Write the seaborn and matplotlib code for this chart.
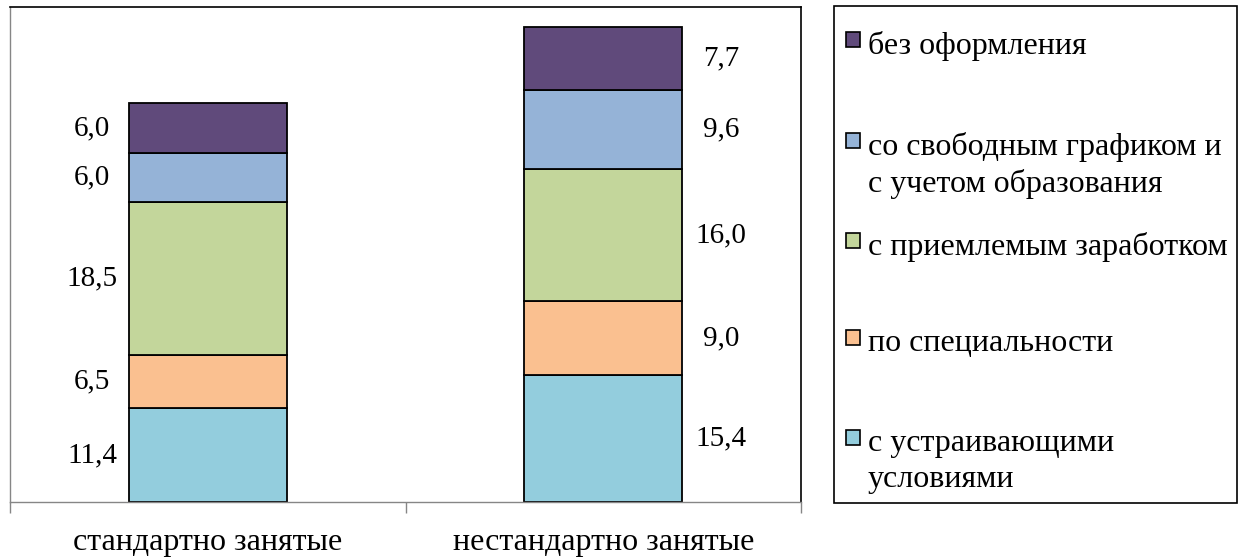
import matplotlib
matplotlib.use("Agg")
import matplotlib.pyplot as plt
from matplotlib.patches import Rectangle
import seaborn as sns
import numpy as np

# Categories and stacked series (bottom to top)
categories = ["стандартно занятые", "нестандартно занятые"]
series_names = [
    "с устраивающими\nусловиями",
    "по специальности",
    "с приемлемым заработком",
    "со свободным графиком и\nс учетом образования",
    "без оформления",
]
values_conditions = [11.4, 15.4]
values_specialty = [6.5, 9.0]
values_earnings = [18.5, 16.0]
values_schedule = [6.0, 9.6]
values_informal = [6.0, 7.7]
series_values = [values_conditions, values_specialty, values_earnings,
                 values_schedule, values_informal]
series_colors = ["#93CDDD", "#FAC090", "#C3D69B", "#95B3D7", "#604A7B"]

sns.set_style("white")
plt.rcParams["font.family"] = ["Liberation Serif", "DejaVu Serif"]
plt.rcParams["text.color"] = "black"
plt.rcParams["xtick.color"] = "black"
plt.rcParams["xtick.labelcolor"] = "black"
FS_TEXT = 23
FS_NUM = 21

fig = plt.figure(figsize=(12.4, 5.6), dpi=100)
W, H = 1240, 560
ax = fig.add_axes([10 / W, 1 - 502 / H, (801 - 10) / W, (502 - 7) / H])

bottoms = np.zeros(len(categories))
for vals, col in zip(series_values, series_colors):
    sns.barplot(x=categories, y=vals, bottom=bottoms, color=col, width=0.4,
                edgecolor="black", linewidth=1.3, saturation=1, ax=ax)
    # value labels: left of the first bar, right of the second bar
    for i, v in enumerate(vals):
        yc = bottoms[i] + v / 2
        txt = f"{v:.1f}".replace(".", ",")
        xpos = -0.292 if i == 0 else 1.298
        ax.text(xpos, yc, txt, ha="center", va="center", fontsize=FS_NUM)
    bottoms = bottoms + np.array(vals)

ax.set_xlim(-0.5, 1.5)
ax.set_ylim(0, 60.1)
ax.set_yticks([])
ax.set_xlabel("")
ax.set_ylabel("")
ax.set_xticks([0, 1])
ax.set_xticklabels(categories, fontsize=FS_TEXT)
ax.set_xticks([-0.5, 0.5, 1.5], minor=True)
ax.tick_params(axis="x", which="major", length=0, pad=19)
ax.tick_params(axis="x", which="minor", length=8, width=1, color="#868686",
               direction="out", bottom=True)

for side in ["left", "bottom"]:
    ax.spines[side].set_color("#868686")
    ax.spines[side].set_linewidth(1)
for side in ["top", "right"]:
    ax.spines[side].set_color("black")
    ax.spines[side].set_linewidth(1.2)
for s in ax.spines.values():
    s.set_visible(True)

# legend box with entries listed top to bottom
fig.patches.append(Rectangle((834 / W, 1 - 503 / H), (1237 - 834) / W,
                             (503 - 6) / H, transform=fig.transFigure,
                             facecolor="white", edgecolor="black", linewidth=1.2))
marker_tops = [32, 133, 233, 330, 430]
for name, col, mt in zip(series_names[::-1], series_colors[::-1], marker_tops):
    fig.patches.append(Rectangle((846 / W, 1 - (mt + 15) / H), 14 / W, 15 / H,
                                 transform=fig.transFigure, facecolor=col,
                                 edgecolor="black", linewidth=1.2))
    fig.text(868 / W, 1 - (mt - 1) / H, name, fontsize=FS_TEXT, ha="left",
             va="top", linespacing=1.3)

fig.savefig("out.png", dpi=100, facecolor="white")
